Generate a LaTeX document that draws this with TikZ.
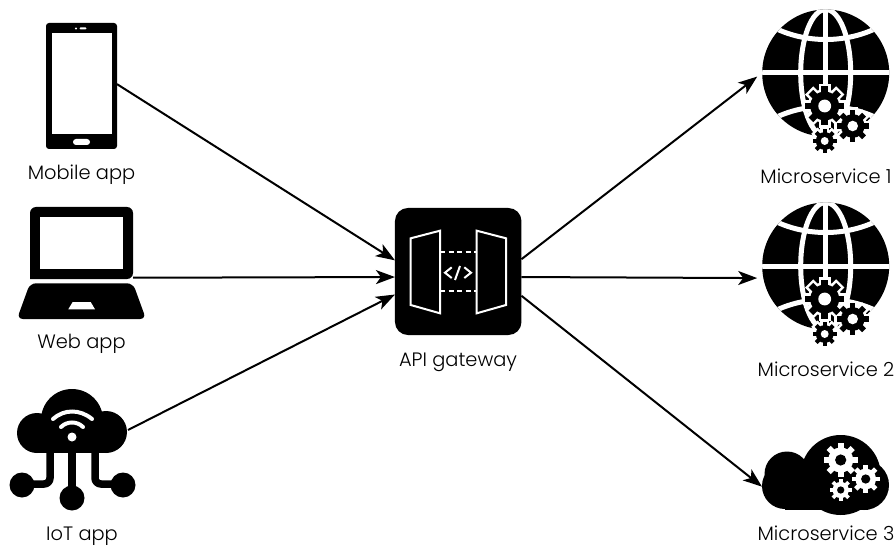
\documentclass[tikz,border=0pt]{standalone}
\usepackage{fontspec}
\setmainfont{Poppins Light}
\usetikzlibrary{arrows.meta, positioning}

\tikzset{
	iconbox/.style={inner sep=0pt, outer sep=0pt, rectangle},
	lbl/.style={inner sep=0pt, font=\fontsize{19.4}{22}\selectfont},
	link/.style={line width=2pt, -{Stealth[length=19pt,width=14pt,inset=5pt]}},
	wline/.style={white, line width=2pt},
}

\newcommand{\drawgear}[4]{
	\fill[#3] (#1) circle ({0.74*#2});
	\foreach \a in {0,45,...,315}
		\draw[#3, line width={0.34*#2}] (#1) ++(\a:{0.6*#2}) -- ++(\a:{0.4*#2});
	\fill[#4] (#1) circle ({0.33*#2});
}

\newcommand{\gearhalo}[2]{
	\fill[white] (#1) circle ({0.74*#2+2.5});
	\foreach \a in {0,45,...,315}
		\draw[white, line width={0.34*#2+5}] (#1) ++(\a:{0.6*#2}) -- ++(\a:{0.4*#2+2.5});
}

\newcommand{\globeicon}[1]{
	\begin{scope}[shift={(#1)}]
		\fill (0, 0) circle (63.5);
		\begin{scope}
			\clip (0, 0) circle (63.5);
			\draw[white, line width=5pt] (-70, 0) -- (70, 0);
			\draw[white, line width=5pt] (0, -70) -- (0, 70);
			\draw[white, line width=5pt] (0, 0) ellipse (25 and 63.5);
			\draw[white, line width=5pt] (-60, -50) .. controls (-25, -28) and (25, -28) .. (60, -50);
			\draw[white, line width=5pt] (-60, 50) .. controls (-25, 28) and (25, 28) .. (60, 50);
		\end{scope}
		\gearhalo{-1, 33}{19.5}
		\gearhalo{27, 53}{16}
		\gearhalo{-1, 68}{12}
		\drawgear{-1, 33}{19.5}{black}{white}
		\drawgear{27, 53}{16}{black}{white}
		\drawgear{-1, 68}{12}{black}{white}
	\end{scope}
}

\begin{document}
\begin{tikzpicture}[x=1pt, y=-1pt]
	\useasboundingbox (0, 0) rectangle (894, 548);

	% phone
	\node[iconbox, fill=black, rounded corners=3pt, minimum width=71pt, minimum height=126pt] (mobile) at (81.5, 86) {};
	\fill[white] (51.5, 33) rectangle (111.5, 134);
	\fill[white] (76, 28.5) circle (1.1);
	\fill[white, rounded corners=1pt] (79.5, 27.5) rectangle (86.5, 29.5);
	\fill[white, rounded corners=3pt] (73, 139) rectangle (90, 145);
	\node[lbl] (mobilelbl) at (81.5, 175) {Mobile app};

	% laptop
	\node[iconbox, minimum width=103pt, minimum height=72pt] (web) at (81.5, 243) {};
	\fill[rounded corners=6pt] (30, 279) -- (30, 207) -- (133, 207) -- (133, 279) [sharp corners] -- cycle;
	\fill[white] (40, 217.3) rectangle (122.7, 268.7);
	\fill[rounded corners=6pt] (30, 283.3) -- (133, 283.3) -- (146, 319) -- (17, 319) -- cycle;
	\fill[white] (72.7, 302) -- (90.7, 302) -- (95, 309.3) -- (68.3, 309.3) -- cycle;
	\node[lbl] (weblbl) at (81.5, 344) {Web app};

	% iot cloud
	\node[iconbox, minimum width=111pt, minimum height=64pt] (iot) at (72, 421) {};
	\fill (37, 433) circle (20);
	\fill (72, 420) circle (31);
	\fill (106, 432) circle (21);
	\fill (37, 425) rectangle (106, 453);
	\draw[line width=7.5pt] (72, 450) -- (72, 490);
	\draw[line width=7.5pt, rounded corners=6pt] (50, 450) -- (50, 484) -- (22, 484);
	\draw[line width=7.5pt, rounded corners=6pt] (95, 450) -- (95, 484) -- (123, 484);
	\fill (72, 498) circle (12.5);
	\fill (22, 485) circle (12.5);
	\fill (123, 485) circle (12.5);
	\fill[white] (72, 437) circle (4.5);
	\draw[white, line width=4pt, line cap=round] (61, 427) .. controls (67, 421) and (77, 421) .. (83, 427);
	\draw[white, line width=4pt, line cap=round] (53, 419) .. controls (64, 409) and (80, 409) .. (92, 419);
	\node[lbl] (iotlbl) at (82, 536) {IoT app};

	% gateway
	\node[iconbox, fill=black, rounded corners=13pt, minimum width=126.5pt, minimum height=127pt] (gateway) at (458.2, 271.5) {};
	\draw[wline] (410.7, 238.3) -- (440, 230.7) -- (440, 313.3) -- (410.7, 305) -- cycle;
	\draw[wline] (476.7, 230.7) -- (506, 238.3) -- (506, 305) -- (476.7, 313.3) -- cycle;
	\draw[wline, dash pattern=on 5pt off 3.5pt] (440, 252.3) -- (476.7, 252.3);
	\draw[wline, dash pattern=on 5pt off 3.5pt] (440, 290.7) -- (476.7, 290.7);
	\draw[wline] (451.7, 267.3) -- (445, 272.7) -- (451.7, 278);
	\draw[wline] (460, 266) -- (455, 280);
	\draw[wline] (464.3, 267.3) -- (471, 272.7) -- (464.3, 278);
	\node[lbl] (gatewaylbl) at (458, 362) {API gateway};

	% services
	\globeicon{825.7, 73}
	\node[iconbox, minimum width=137pt, minimum height=127pt] (service1) at (825.7, 73) {};
	\node[lbl] (service1lbl) at (826, 176) {Microservice 1};

	\globeicon{825.7, 266}
	\node[iconbox, minimum width=137pt, minimum height=127pt] (service2) at (825.7, 266) {};
	\node[lbl] (service2lbl) at (826, 369) {Microservice 2};

	\fill (840.7, 475) circle (40);
	\fill (864, 485) circle (25);
	\fill (787, 474) circle (22.5);
	\fill (785, 486) circle (23);
	\fill (785, 480) rectangle (868, 509.5);
	\drawgear{840.7, 460}{17}{white}{black}
	\drawgear{865.7, 479}{14}{white}{black}
	\drawgear{840.7, 490}{11}{white}{black}
	\node[iconbox, minimum width=127pt, minimum height=74pt] (service3) at (825.5, 472) {};
	\node[lbl] (service3lbl) at (826, 533) {Microservice 3};

	\coordinate (iotport) at (128, 430);

	\draw[link] (mobile.3) -- (gateway.170);
	\draw[link] (web.-34) -- (gateway.185);
	\draw[link] (iotport) -- (gateway.200);

	\draw[link] (gateway.11) -- (service1.183);
	\draw[link] (gateway.-5) -- (service2.190);
	\draw[link] (gateway.-21) -- (service3.193);
\end{tikzpicture}
\end{document}
